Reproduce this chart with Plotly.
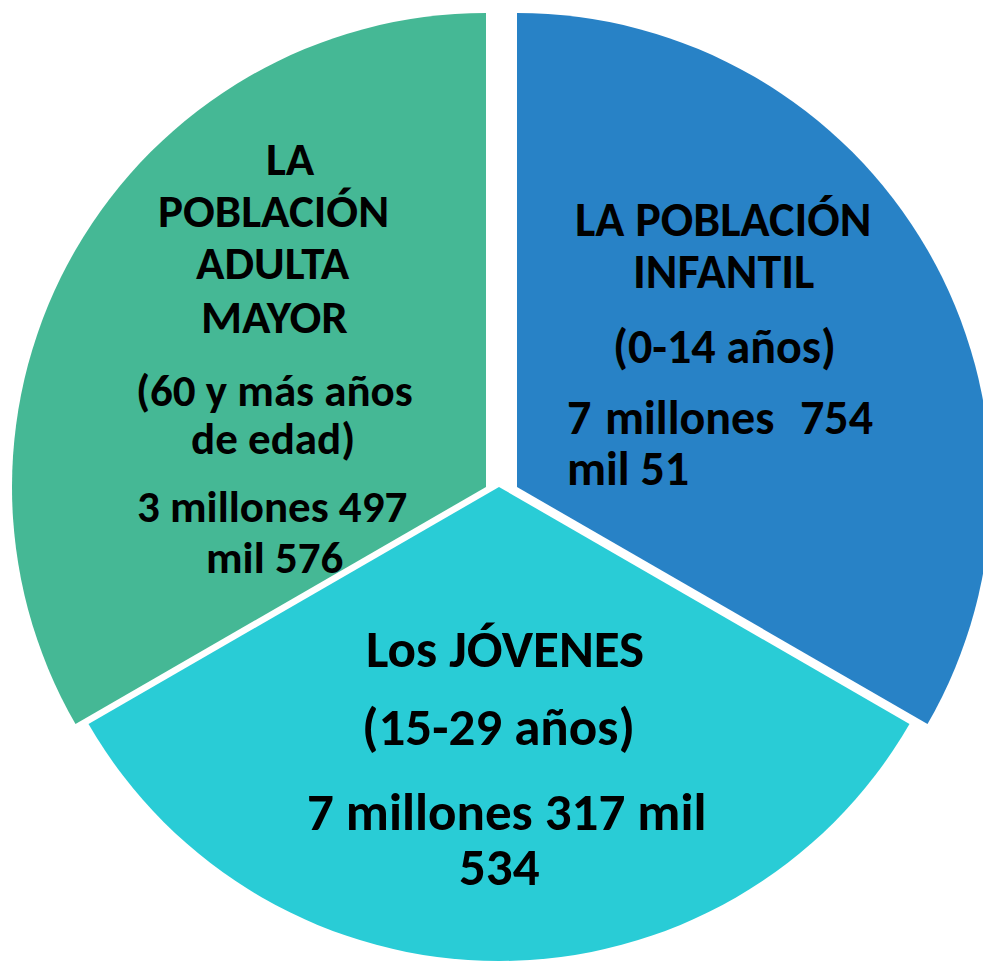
import plotly.graph_objects as go

# ---- data ----
categories = ["LA POBLACIÓN INFANTIL", "Los JÓVENES", "LA POBLACIÓN ADULTA MAYOR"]
age_ranges = ["(0-14 años)", "(15-29 años)", "(60 y más años de edad)"]
population = [7754051, 7317534, 3497576]
population_text = ["7 millones 754 mil 51", "7 millones 317 mil 534", "3 millones 497 mil 576"]
slice_share = [1, 1, 1]          # the picture draws three equal thirds
colors = ["#2882C6", "#29CCD6", "#45B895"]

W, H = 991, 962
OFF = 8                          # page body margin offset
R = 474
CY = 487 - OFF
centers_x = [517 - OFF, 499 - OFF, 486 - OFF]   # slices are offset sideways in the picture

fig = go.Figure()
for i, (cat, col, cx) in enumerate(zip(categories, colors, centers_x)):
    cols = ["rgba(0,0,0,0)"] * len(categories)
    cols[i] = col
    fig.add_trace(go.Pie(
        labels=categories,
        values=slice_share,
        sort=False,
        direction="clockwise",
        rotation=0,
        marker=dict(colors=cols, line=dict(width=0)),
        textinfo="none",
        hoverinfo="skip",
        showlegend=False,
        domain=dict(x=[(cx - R) / W, (cx + R) / W],
                    y=[(H - CY - R) / H, (H - CY + R) / H]),
    ))

FAMILY = "Carlito, Calibri, Lato, sans-serif"


def ann(text, x, y, size, xanchor="center"):
    fig.add_annotation(text=text, x=(x - OFF) / W, y=1 - (y - OFF) / H,
                       xref="paper", yref="paper",
                       xanchor=xanchor, yanchor="middle", showarrow=False,
                       font=dict(family=FAMILY, size=size, color="black", weight="bold"))


# infantil
S_B = 48
w0 = categories[0].split()
ann(" ".join(w0[:2]), 723, 219, S_B)
ann(w0[2], 723, 271, S_B)
ann(age_ranges[0], 724, 347, S_B)
p0 = population_text[0].split()
ann(p0[0], 565, 418, S_B, "left")
ann(p0[1], 689, 418, S_B)
ann(p0[2], 875, 418, S_B, "right")
ann(" ".join(p0[3:]), 565, 468, S_B, "left")

# jóvenes
S_C = 53
ann(categories[1], 505, 649, S_C)
ann(age_ranges[1], 498, 727, S_C)
p1 = population_text[1].split()
ann(" ".join(p1[:4]), 506, 812, S_C)
ann(p1[4], 499, 867, S_C)

# adulta mayor
S_G1, S_G2 = 47, 45
w2 = categories[2].split()
ann(w2[0], 290, 159, S_G1)
ann(w2[1], 273, 211, S_G1)
ann(w2[2], 273, 263, S_G1)
ann(w2[3], 274, 317, S_G1)
a2 = age_ranges[2].split()
ann(" ".join(a2[:4]), 274, 390, S_G2)
ann(" ".join(a2[4:]), 273, 438, S_G2)
p2 = population_text[2].split()
ann(" ".join(p2[:3]), 272, 507, S_G2)
ann(" ".join(p2[3:]), 274, 557, S_G2)

fig.update_layout(
    width=W, height=H,
    margin=dict(l=0, r=0, t=0, b=0),
    paper_bgcolor="white",
    plot_bgcolor="white",
)

fig.write_html("out.html")
